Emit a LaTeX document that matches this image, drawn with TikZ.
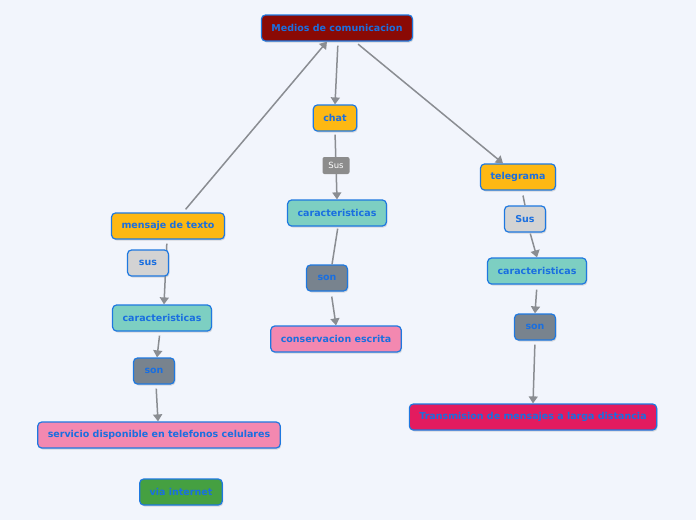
\documentclass[tikz,border=0pt]{standalone}
\usepackage{fontspec}
\setmainfont{DejaVu Sans}
\usetikzlibrary{arrows.meta,shadows}
\definecolor{bg}{HTML}{F2F5FC}
\definecolor{bordblue}{HTML}{1E78E0}
\definecolor{txtblue}{HTML}{1A6FE0}
\definecolor{darkred}{HTML}{8A0A05}
\definecolor{orangey}{HTML}{FDB813}
\definecolor{tealc}{HTML}{7DCFC2}
\definecolor{slate}{HTML}{78838E}
\definecolor{pinkc}{HTML}{F388B0}
\definecolor{crimson}{HTML}{E31B5F}
\definecolor{greenc}{HTML}{45A041}
\definecolor{lgray}{HTML}{D3D3D3}
\definecolor{edgegray}{HTML}{8A8D92}
\definecolor{labgray}{HTML}{8C8C8C}
\tikzset{
  box/.style={draw=bordblue, line width=1.2pt, rounded corners=4pt,
    text=txtblue, font=\fontsize{9.5}{11}\selectfont\bfseries,
    inner xsep=10pt, inner ysep=0pt, minimum height=26pt,
    drop shadow={opacity=0.25, shadow xshift=1pt, shadow yshift=-1.5pt}},
  smallbox/.style={box, minimum width=41pt, inner xsep=4pt},
  conn/.style={draw=edgegray, line width=1.5pt},
  arr/.style={conn, -{Triangle[width=9pt,length=7pt]}},
  elabel/.style={fill=labgray, text=white, rounded corners=2pt,
    font=\fontsize{8.5}{10}\selectfont, minimum width=27pt, minimum height=17pt, inner sep=2pt}
}
\begin{document}
\begin{tikzpicture}[x=1pt,y=-1pt]
\fill[bg] (0,0) rectangle (696,520);
\useasboundingbox (0,0) rectangle (696,520);

% nodes
\node[box, fill=darkred] (root) at (337,28) {Medios de comunicacion};
\node[box, fill=orangey] (chat) at (335,118) {chat};
\node[box, fill=tealc] (cmid) at (337,213) {caracteristicas};
\node[smallbox, fill=slate] (smid) at (327,278) {son};
\node[box, fill=pinkc] (cons) at (336,339) {conservacion escrita};

\node[box, fill=orangey] (tel) at (518,177) {telegrama};
\node[smallbox, fill=lgray] (susr) at (525,219) {Sus};
\node[box, fill=tealc] (cright) at (537,271) {caracteristicas};
\node[smallbox, fill=slate] (sright) at (535,327) {son};
\node[box, fill=crimson] (trans) at (533,417) {Transmision de mensajes a larga distancia};

\node[box, fill=orangey] (msg) at (168,226) {mensaje de texto};
\node[box, fill=tealc] (cleft) at (162,318) {caracteristicas};
\node[smallbox, fill=slate] (sleft) at (154,371) {son};
\node[box, fill=pinkc] (serv) at (159,435) {servicio disponible en telefonos celulares};
\node[box, fill=greenc] (via) at (181,492) {via internet};

% connectors
\draw[arr, shorten <=4pt] ([xshift=1pt]root.south) -- (chat.north);
\draw[arr, shorten <=4pt] ([xshift=15pt]msg.north) -- ([xshift=-10pt]root.south);
\draw[arr, shorten <=4pt] ([xshift=18pt]root.south) -- ([xshift=-15pt]tel.north);
\draw[arr, shorten <=3pt] (chat.south) -- node[elabel] (lsus) {Sus} (cmid.north);
\draw[conn, shorten <=2pt] ([xshift=1pt]cmid.south) -- ([xshift=5pt]smid.north);
\draw[arr, shorten <=5pt] ([xshift=4pt]smid.south) -- (cons.north);

\draw[conn, shorten <=5pt] ([xshift=4pt]tel.south) -- (susr.north);
\draw[arr, shorten <=1pt] ([xshift=5pt]susr.south) -- (cright.north);
\draw[arr, shorten <=5pt] (cright.south) -- (sright.north);
\draw[arr, shorten <=4pt] (sright.south) -- (trans.north);

\draw[arr, shorten <=4pt] ([xshift=-1pt]msg.south) -- ([xshift=2pt]cleft.north);
\node[smallbox, fill=lgray] (susl) at (148,263) {sus};
\draw[arr, shorten <=4pt] ([xshift=-2pt]cleft.south) -- ([xshift=3pt]sleft.north);
\draw[arr, shorten <=4pt] ([xshift=2pt]sleft.south) -- ([xshift=-1pt]serv.north);
\end{tikzpicture}
\end{document}
